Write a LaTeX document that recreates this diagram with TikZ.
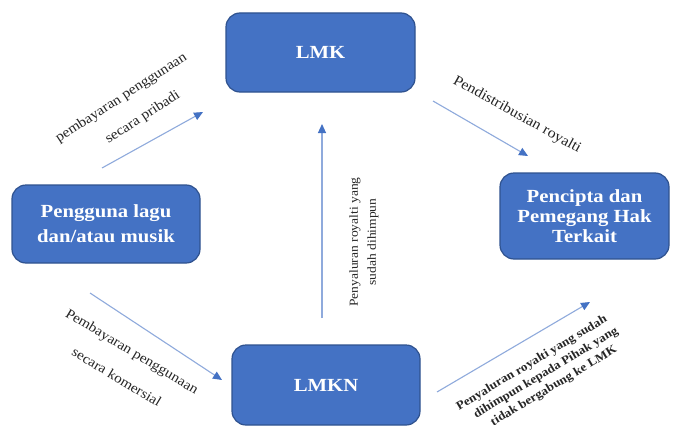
\documentclass[tikz,border=0pt]{standalone}
\usepackage{fontspec}
\setmainfont{Liberation Serif}
\newfontfamily\boxfont[FakeStretch=1.12]{Liberation Serif}
\newfontfamily\lblfont[FakeStretch=1.1]{Liberation Serif}
\usetikzlibrary{arrows.meta}
\definecolor{boxblue}{HTML}{4472C4}
\definecolor{boxedge}{HTML}{2F528F}
\definecolor{arrline}{HTML}{8FAADC}
\definecolor{lbl}{HTML}{262626}
\begin{document}
\begin{tikzpicture}[x=1pt,y=-1pt,
  blk/.style={draw=boxedge, line width=1.2pt, fill=boxblue, rounded corners=14pt,
    inner sep=0pt, align=center, text=white,
    font={\boxfont\bfseries\fontsize{18.5}{25}\selectfont}},
  flow/.style={draw=arrline, line width=1.1pt,
    -{Triangle[length=9pt,width=8pt,color=boxblue]}},
  lab/.style={text=lbl, align=center, inner sep=0pt}]
\useasboundingbox (0,0) rectangle (676,428);
\fill[white] (0,0) rectangle (676,428);

% boxes
\node[blk, minimum width=189pt, minimum height=79pt] (lmk) at (320.5,52.5) {LMK};
\node[blk, minimum width=188pt, minimum height=78pt] (user) at (106,224) {Pengguna lagu\\dan/atau musik};
\node[blk, minimum width=169pt, minimum height=86pt,
  font={\boxfont\bfseries\fontsize{18.5}{20}\selectfont}] (creator) at (584.5,216) {Pencipta dan\\Pemegang Hak\\Terkait};
\node[blk, minimum width=188pt, minimum height=80pt] (lmkn) at (326,385) {LMKN};

% arrow end points
\coordinate (a1s) at (102,168); \coordinate (a1e) at (203,112);
\coordinate (a2s) at (433,101); \coordinate (a2e) at (528,156);
\coordinate (a3s) at (322,318); \coordinate (a3e) at (322,124);
\coordinate (a4s) at (90,293);  \coordinate (a4e) at (222,380);
\coordinate (a5s) at (437,392); \coordinate (a5e) at (590,302);

\draw[flow] (a1s) -- (a1e);
\draw[flow] (a2s) -- (a2e);
\draw[flow] (a3s) -- (a3e);
\draw[flow] (a4s) -- (a4e);
\draw[flow] (a5s) -- (a5e);

% labels
\node[lab, rotate=33, font={\lblfont\fontsize{14}{28}\selectfont}] (tpri) at (129,110)
  {pembayaran penggunaan\\\hspace*{15pt}secara pribadi};
\node[lab, rotate=-31, font={\lblfont\fontsize{13.8}{30}\selectfont}] (tkom) at (124.5,364)
  {Pembayaran penggunaan\\secara komersial};
\node[lab, rotate=-29, font={\lblfont\fontsize{14.5}{18}\selectfont}] (tdist) at (517,115)
  {Pendistribusian royalti};
\node[lab, rotate=90, font={\lblfont\fontsize{12.3}{18}\selectfont}] (tvert) at (364,242)
  {Penyaluran royalti yang\\sudah dihimpun};
\node[lab, rotate=31, font={\lblfont\bfseries\fontsize{12}{15.5}\selectfont}] (tnon) at (546,373)
  {Penyaluran royalti yang sudah\hspace*{14pt}\\dihimpun kepada Pihak yang\\tidak bergabung ke LMK};
\end{tikzpicture}
\end{document}
